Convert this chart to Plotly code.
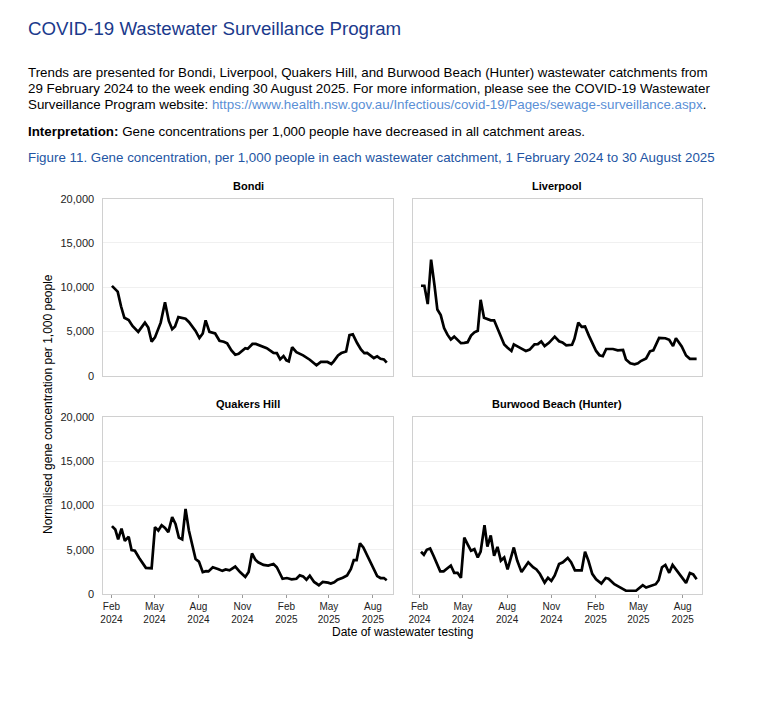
import plotly.graph_objects as go

# ---------------- data ----------------
bondi_dates = ["2024-02-02","2024-02-14","2024-02-21","2024-02-28","2024-03-08","2024-03-16","2024-03-28",
    "2024-04-11","2024-04-18","2024-04-25","2024-05-02","2024-05-14","2024-05-23","2024-05-31","2024-06-07",
    "2024-06-13","2024-06-20","2024-07-05","2024-07-12","2024-07-26","2024-08-03","2024-08-10","2024-08-16",
    "2024-08-24","2024-09-05","2024-09-14","2024-09-23","2024-09-30","2024-10-09","2024-10-17","2024-10-24",
    "2024-11-07","2024-11-12","2024-11-22","2024-11-29","2024-12-11","2024-12-22","2025-01-05","2025-01-12",
    "2025-01-19","2025-01-26","2025-02-01","2025-02-06","2025-02-13","2025-02-22","2025-03-08","2025-03-22",
    "2025-04-05","2025-04-14","2025-04-28","2025-05-06","2025-05-11","2025-05-20","2025-05-27","2025-06-06",
    "2025-06-13","2025-06-20","2025-06-29","2025-07-07","2025-07-14","2025-07-20","2025-08-03","2025-08-10",
    "2025-08-17","2025-08-24","2025-08-30"]
bondi_values = [10150,9500,7850,6550,6300,5630,4960,6000,5440,3850,4330,6000,8300,6190,5260,5560,6630,6440,6070,
    5070,4260,4780,6260,4960,4780,3960,3850,3670,2850,2370,2480,3110,3040,3590,3590,3330,3110,2590,2560,1850,
    2220,1740,1630,3220,2670,2300,1810,1190,1560,1560,1330,1630,2300,2560,2740,4590,4670,3700,2960,2560,2590,
    2000,2190,1920,1850,1480]

liverpool_dates = ["2024-02-04","2024-02-11","2024-02-18","2024-02-25","2024-03-03","2024-03-09","2024-03-16",
    "2024-03-23","2024-03-30","2024-04-06","2024-04-13","2024-04-20","2024-04-27","2024-05-04","2024-05-11",
    "2024-05-18","2024-05-25","2024-06-01","2024-06-07","2024-06-14","2024-06-21","2024-06-28","2024-07-05",
    "2024-07-12","2024-07-19","2024-07-26","2024-08-02","2024-08-10","2024-08-15","2024-08-24","2024-08-31",
    "2024-09-09","2024-09-17","2024-09-27","2024-10-04","2024-10-11","2024-10-18","2024-10-27","2024-11-08",
    "2024-11-17","2024-11-24","2024-12-02","2024-12-14","2024-12-19","2024-12-27","2025-01-03","2025-01-10",
    "2025-01-18","2025-01-26","2025-02-02","2025-02-09","2025-02-16","2025-02-23","2025-03-09","2025-03-19",
    "2025-03-30","2025-04-05","2025-04-14","2025-04-23","2025-04-30","2025-05-06","2025-05-17","2025-05-25",
    "2025-06-01","2025-06-13","2025-06-26","2025-07-04","2025-07-12","2025-07-18","2025-07-30","2025-08-08",
    "2025-08-16","2025-08-30"]
liverpool_values = [10170,10170,8100,13110,10240,7480,6850,5380,4640,4090,4420,4055,3680,3720,3790,4530,4900,5080,
    8580,6550,6370,6260,6260,5380,4420,3540,3170,2800,3540,3310,3060,2800,2950,3540,3570,3870,3350,3720,4420,
    3900,3760,3430,3500,4170,6000,5520,5560,4530,3540,2800,2320,2210,3020,3020,2870,2910,1840,1400,1290,1400,
    1660,1950,2760,2870,4270,4240,4060,3350,4240,3310,2290,1910,1910]

quakers_dates = ["2024-02-02","2024-02-09","2024-02-15","2024-02-22","2024-02-29","2024-03-08","2024-03-14",
    "2024-03-21","2024-03-30","2024-04-13","2024-04-25","2024-05-02","2024-05-09","2024-05-16","2024-05-23",
    "2024-05-30","2024-06-07","2024-06-14","2024-06-21","2024-06-28","2024-07-05","2024-07-12","2024-07-26",
    "2024-08-02","2024-08-10","2024-08-17","2024-08-22","2024-08-31","2024-09-12","2024-09-20","2024-09-27",
    "2024-10-05","2024-10-17","2024-10-27","2024-11-07","2024-11-14","2024-11-21","2024-11-28","2024-12-04",
    "2024-12-15","2024-12-25","2025-01-05","2025-01-12","2025-01-24","2025-02-02","2025-02-12","2025-02-22",
    "2025-03-01","2025-03-08","2025-03-15","2025-03-22","2025-03-31","2025-04-10","2025-04-18","2025-04-29",
    "2025-05-05","2025-05-12","2025-05-19","2025-05-30","2025-06-08","2025-06-16","2025-06-22","2025-06-28",
    "2025-07-05","2025-07-12","2025-07-21","2025-08-01","2025-08-10","2025-08-17","2025-08-24","2025-08-30"]
quakers_values = [7670,7290,6180,7400,6000,6480,4960,4890,4070,2960,2920,7560,7180,7780,7480,7000,8700,7920,6370,
    6180,9620,7180,3960,3670,2480,2590,2560,3030,2810,2620,2780,2670,3110,2480,1920,2480,4590,3890,3590,3290,
    3220,3400,3030,1730,1810,1670,1730,2110,2000,1620,2070,1370,1000,1370,1290,1180,1330,1620,1840,2110,2840,
    3840,3840,5730,5260,4220,3030,2030,1810,1810,1560]

burwood_dates = ["2024-02-04","2024-02-10","2024-02-16","2024-02-23","2024-03-01","2024-03-08","2024-03-15",
    "2024-03-22","2024-03-29","2024-04-06","2024-04-13","2024-04-20","2024-04-27","2024-05-04","2024-05-11",
    "2024-05-18","2024-05-25","2024-06-01","2024-06-07","2024-06-15","2024-06-21","2024-06-28","2024-07-05",
    "2024-07-12","2024-07-19","2024-07-26","2024-08-02","2024-08-08","2024-08-15","2024-08-22","2024-08-31",
    "2024-09-14","2024-09-24","2024-10-01","2024-10-08","2024-10-18","2024-10-25","2024-11-01","2024-11-08",
    "2024-11-17","2024-11-25","2024-12-05","2024-12-12","2024-12-20","2025-01-03","2025-01-10","2025-01-17",
    "2025-01-25","2025-02-02","2025-02-13","2025-02-22","2025-02-28","2025-03-12","2025-03-22","2025-04-05",
    "2025-04-26","2025-05-03","2025-05-10","2025-05-17","2025-05-27","2025-06-06","2025-06-12","2025-06-19",
    "2025-06-26","2025-07-04","2025-07-11","2025-07-18","2025-07-25","2025-08-01","2025-08-08","2025-08-16",
    "2025-08-23","2025-08-30"]
burwood_values = [4780,4440,5000,5140,4330,3400,2560,2560,2920,3220,2400,2400,1840,6370,5620,4890,5070,4140,4810,
    7780,5370,6620,4330,5330,3780,4140,2780,3960,5260,3780,2480,3590,3030,2780,2290,1290,1840,1480,2110,3400,
    3590,4070,3590,2670,2670,4780,3780,2290,1670,1180,1810,1730,1110,810,370,370,700,1000,730,920,1110,1560,
    3030,3290,2400,3290,2780,2370,1810,1260,2370,2220,1670]

panel_titles = ["Bondi", "Liverpool", "Quakers Hill", "Burwood Beach (Hunter)"]
tick_dates = ["2024-02-01","2024-05-01","2024-08-01","2024-11-01","2025-02-01","2025-05-01","2025-08-01"]
tick_text = ["Feb<br>2024","May<br>2024","Aug<br>2024","Nov<br>2024","Feb<br>2025","May<br>2025","Aug<br>2025"]
y_ticks = [0, 5000, 10000, 15000, 20000]

series = [(bondi_dates, bondi_values), (liverpool_dates, liverpool_values),
          (quakers_dates, quakers_values), (burwood_dates, burwood_values)]

# ---------------- layout geometry ----------------
W, H = 762, 721
def px(x): return x / W
def py(y): return 1 - y / H

x_doms = [[px(99), px(391)], [px(411), px(702)]]
y_doms = [[py(376), py(196)], [py(598), py(418)]]
x_ranges = [["2024-01-15", "2025-09-13"], ["2024-01-19", "2025-09-11"]]

fig = go.Figure()
FONT = "Liberation Sans, Arial, sans-serif"
frame = "#d0d0d0"
grid = "#f0f0f0"

for i, (d, v) in enumerate(series):
    sfx = "" if i == 0 else str(i + 1)
    fig.add_trace(go.Scatter(x=d, y=v, mode="lines", line=dict(color="black", width=2.7),
                             xaxis="x" + sfx, yaxis="y" + sfx, showlegend=False,
                             name=panel_titles[i]))
    col, row = i % 2, i // 2
    bottom = row == 1
    fig.layout["xaxis" + sfx] = dict(
        domain=x_doms[col], range=x_ranges[col], anchor="y" + sfx, type="date",
        showgrid=False, zeroline=False, showline=True, linecolor=frame, mirror=True, linewidth=1,
        tickvals=tick_dates, ticktext=tick_text, showticklabels=bottom,
        ticks="outside" if bottom else "", ticklen=3, tickcolor="#999999",
        tickfont=dict(size=10, color="#222222", family=FONT),
    )
    fig.layout["yaxis" + sfx] = dict(
        domain=y_doms[row], range=[0, 20000], anchor="x" + sfx,
        showgrid=True, gridcolor=grid, gridwidth=1, zeroline=False,
        showline=True, linecolor=frame, mirror=True, linewidth=1,
        tickvals=y_ticks, tickformat=",", showticklabels=(col == 0), ticks="",
        ticklabelstandoff=6,
        tickfont=dict(size=11, color="#222222", family=FONT),
    )

ann = []
title_pos = [(245, 183), (556, 183), (245, 405), (556, 405)]
for t, (x, y) in zip(panel_titles, title_pos):
    ann.append(dict(text="<b>%s</b>" % t, x=px(x), y=py(y), xref="paper", yref="paper",
                    showarrow=False, xanchor="center", yanchor="middle",
                    font=dict(size=11, color="black", family=FONT)))
ann.append(dict(text="Normalised gene concentration per 1,000 people", x=px(44), y=py(405),
                xref="paper", yref="paper", showarrow=False, textangle=-90,
                xanchor="center", yanchor="middle", font=dict(size=12, color="black", family=FONT)))
ann.append(dict(text="Date of wastewater testing", x=px(400), y=py(637), xref="paper", yref="paper",
                showarrow=False, xanchor="center", yanchor="middle",
                font=dict(size=12, color="black", family=FONT)))
ann.append(dict(text="COVID-19 Wastewater Surveillance Program", x=px(21), y=py(23), xref="paper",
                yref="paper", showarrow=False, xanchor="left", yanchor="middle",
                font=dict(size=18.7, color="#1b3a8c", family=FONT)))
body = ["Trends are presented for Bondi, Liverpool, Quakers Hill, and Burwood Beach (Hunter) wastewater catchments from",
        "29 February 2024 to the week ending 30 August 2025. For more information, please see the COVID-19 Wastewater",
        "Surveillance Program website: <span style='color:#5a8fd6'>https://www.health.nsw.gov.au/Infectious/covid-19/Pages/sewage-surveillance.aspx</span>."]
for line, y in zip(body, [68, 84, 100]):
    ann.append(dict(text=line, x=px(21), y=py(y), xref="paper", yref="paper", showarrow=False,
                    xanchor="left", yanchor="middle", font=dict(size=13.35, color="black", family=FONT)))
ann.append(dict(text="<b>Interpretation:</b> Gene concentrations per 1,000 people have decreased in all catchment areas.",
                x=px(21), y=py(128), xref="paper", yref="paper", showarrow=False, xanchor="left",
                yanchor="middle", font=dict(size=13.35, color="black", family=FONT)))
ann.append(dict(text="Figure 11. Gene concentration, per 1,000 people in each wastewater catchment, 1 February 2024 to 30 August 2025",
                x=px(21), y=py(154), xref="paper", yref="paper", showarrow=False, xanchor="left",
                yanchor="middle", font=dict(size=13.35, color="#2355a3", family=FONT)))

fig.update_layout(width=W, height=H, margin=dict(l=0, r=0, t=0, b=0),
                  paper_bgcolor="white", plot_bgcolor="white", annotations=ann,
                  font=dict(family=FONT))
fig.write_html("out.html", config={"displayModeBar": False},
               post_script="document.body.style.margin='0';document.documentElement.style.overflow='hidden';")
